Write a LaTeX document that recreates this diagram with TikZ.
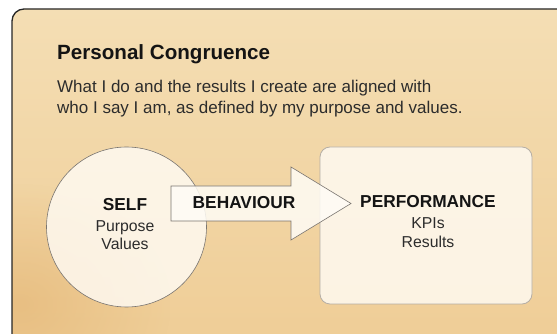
\documentclass[tikz,border=0pt]{standalone}
\usepackage{fontspec}
\setmainfont{Liberation Sans}
\usetikzlibrary{fadings}
\tikzfading[name=softglow, inner color=transparent!0, outer color=transparent!100]
\definecolor{woodtop}{HTML}{F4DEB4}
\definecolor{woodmid}{HTML}{F3D9AA}
\definecolor{woodbot}{HTML}{EFCD96}
\definecolor{woodleft}{HTML}{E2B270}
\definecolor{edgegray}{HTML}{7A7570}
\definecolor{boxedge}{HTML}{B5AEA5}
\definecolor{cream}{HTML}{FFFCF6}
\definecolor{ink}{HTML}{141414}
\tikzset{
  x=1pt,y=1pt,
  boldlbl/.style={font=\fontsize{17.3}{19}\selectfont\bfseries, text=ink, inner sep=0pt, anchor=base},
  plainlbl/.style={font=\fontsize{15.8}{18}\selectfont, text=ink!90, inner sep=0pt, anchor=base},
  desc/.style={font=\fontsize{17}{20}\selectfont, text=ink!90, inner sep=0pt, anchor=base west},
  panel/.style={draw=black!85, line width=1.3pt, rounded corners=12pt},
  glass/.style={fill=cream, fill opacity=0.8, draw=edgegray, line width=0.6pt}
}
\begin{document}
\begin{tikzpicture}
\useasboundingbox (0,0) rectangle (557,334);
\begin{scope}
\clip (0,0) rectangle (557,334);
\begin{scope}
\clip[rounded corners=12pt] (12,325) rectangle (572,-12);
\shade[top color=woodtop, middle color=woodmid, bottom color=woodbot] (12,325) rectangle (572,-12);
\fill[woodleft, opacity=0.55, path fading=softglow] (-130,-90) rectangle (170,150);
\end{scope}
\draw[panel] (12,325) rectangle (572,-12);
\end{scope}
% title and description
\node[font=\fontsize{20.6}{24}\selectfont\bfseries, text=ink, inner sep=0pt, anchor=base west] (title) at (57,274) {Personal Congruence};
\node[desc] (desc1) at (57,241) {What I do and the results I create are aligned with};
\node[desc] (desc2) at (57,220) {who I say I am, as defined by my purpose and values.};
% performance box
\node[glass, draw=boxedge, line width=0.8pt, rounded corners=10pt, minimum width=212pt, minimum height=157pt, inner sep=0pt] (perf) at (426,108.5) {};
% self circle
\node[glass, circle, minimum size=160pt, inner sep=0pt] (self) at (126.5,107) {};
% behaviour arrow
\draw[glass, fill opacity=0.85, line join=miter]
  (171,148) -- (291,148) -- (291,167) -- (351,130.5) -- (291,94) -- (291,113) -- (171,113) -- cycle;
\node[boldlbl] (beh) at (244,125.7) {BEHAVIOUR};
% labels
\node[boldlbl] (selft) at (125,123.3) {SELF};
\node[plainlbl] (purp) at (125,102.7) {Purpose};
\node[plainlbl] (vals) at (125,84) {Values};
\node[boldlbl] (perft) at (428,126.7) {PERFORMANCE};
\node[plainlbl] (kpis) at (428,105.7) {KPIs};
\node[plainlbl] (res) at (428,86.7) {Results};
\end{tikzpicture}
\end{document}
